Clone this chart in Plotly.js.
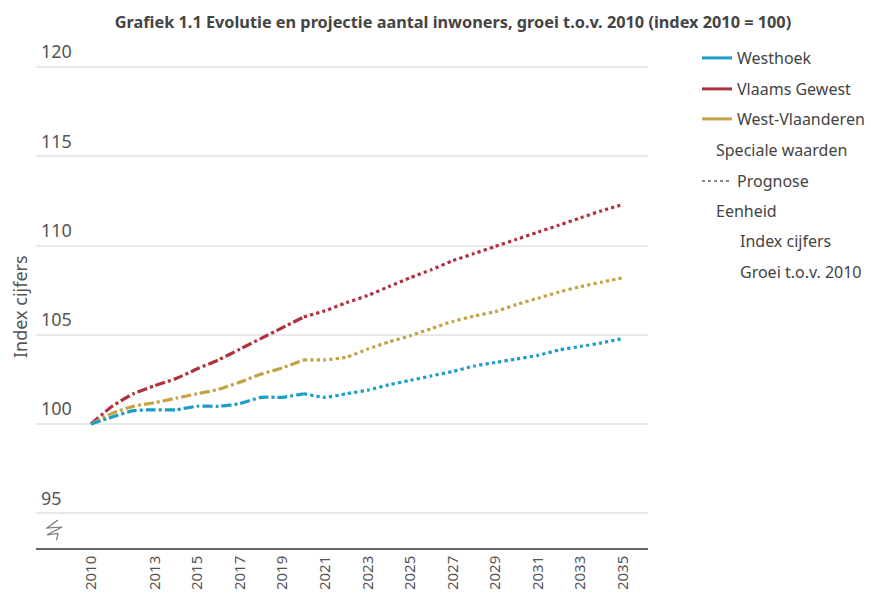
<!DOCTYPE html>
<html>
<head>
<meta charset="utf-8">
<script src="https://cdn.plot.ly/plotly-3.0.1.min.js"></script>
<style>html,body{margin:0;padding:0;background:#fff;}#chart{width:871px;height:603px;}</style>
</head>
<body>
<div id="chart"></div>
<script>
// ---- data ----
const histYears = [2010, 2011, 2012, 2013, 2014, 2015, 2016, 2017, 2018, 2019, 2020];
const progYears = [2020, 2021, 2022, 2023, 2024, 2025, 2026, 2027, 2028, 2029, 2030, 2031, 2032, 2033, 2034, 2035];

const westhoekHist = [100, 100.4, 100.75, 100.8, 100.8, 101.0, 101.0, 101.15, 101.5, 101.5, 101.7];
const westhoekProg = [101.7, 101.5, 101.7, 101.9, 102.2, 102.45, 102.7, 102.95, 103.25, 103.45, 103.65, 103.85, 104.15, 104.35, 104.55, 104.8];

const vlaamsHist = [100, 101.0, 101.7, 102.15, 102.55, 103.1, 103.6, 104.2, 104.8, 105.4, 106.0];
const vlaamsProg = [106.0, 106.35, 106.8, 107.2, 107.7, 108.2, 108.65, 109.15, 109.55, 109.95, 110.35, 110.75, 111.15, 111.55, 111.95, 112.3];

const wvlHist = [100, 100.6, 101.0, 101.2, 101.45, 101.7, 101.95, 102.35, 102.8, 103.15, 103.6];
const wvlProg = [103.6, 103.6, 103.75, 104.2, 104.6, 104.95, 105.35, 105.75, 106.05, 106.3, 106.7, 107.05, 107.4, 107.7, 107.95, 108.2];

const seriesNames = ["Westhoek", "Vlaams Gewest", "West-Vlaanderen"];
const xTickVals = [2010, 2013, 2015, 2017, 2019, 2021, 2023, 2025, 2027, 2029, 2031, 2033, 2035];
const yTickVals = [95, 100, 105, 110, 115, 120];
const prognoseLabel = "Prognose";
const legendHeaders = ["Speciale waarden", "Eenheid"];
const unitLabels = ["Index cijfers", "Groei t.o.v. 2010"];
const yTitle = "Index cijfers";

// ---- styles ----
const FONT = "'Noto Sans', 'Open Sans', sans-serif";
const colors = {"Westhoek": "#1b9dc8", "Vlaams Gewest": "#b22f3e", "West-Vlaanderen": "#c3a345"};
const TXT = "#444";
const histDash = "10px,3px,3px,3px";

const series = [
  {name: seriesNames[1], hist: vlaamsHist, prog: vlaamsProg, legend: "legend2"},
  {name: seriesNames[2], hist: wvlHist, prog: wvlProg, legend: "legend3"},
  {name: seriesNames[0], hist: westhoekHist, prog: westhoekProg, legend: "legend"}
];

const traces = [];
series.forEach(s => {
  traces.push({x: histYears, y: s.hist, type: "scatter", mode: "lines", name: s.name,
    line: {color: colors[s.name], width: 3.2, dash: histDash, shape: "spline", smoothing: 0.6},
    showlegend: false, hoverinfo: "x+y+name"});
  traces.push({x: progYears, y: s.prog, type: "scatter", mode: "lines", name: s.name + " (prognose)",
    line: {color: colors[s.name], width: 3.2, dash: "dot", shape: "spline", smoothing: 0.6},
    showlegend: false, hoverinfo: "x+y+name"});
});
// legend entries (solid swatches)
series.forEach(s => {
  traces.push({x: [null], y: [null], type: "scatter", mode: "lines", name: s.name,
    line: {color: colors[s.name], width: 3}, showlegend: true, legend: s.legend});
});
traces.push({x: [null], y: [null], type: "scatter", mode: "lines", name: prognoseLabel,
  line: {color: "#888", width: 2, dash: "dot"}, showlegend: true, legend: "legend4"});

// plot area in px
const L = 36, R = 648, T = 30, B = 548, W = 871, H = 603;
const px2x = p => (p - L) / (R - L);
const px2y = p => (B - p) / (B - T);

function leg(yPx) {
  return {x: px2x(697), xanchor: "left", y: px2y(yPx), yanchor: "middle",
    font: {family: FONT, size: 16, color: TXT}, bgcolor: "rgba(0,0,0,0)", borderwidth: 0,
    itemwidth: 30, tracegroupgap: 0};
}

function note(text, xPx, yPx, extra) {
  return Object.assign({text: text, x: px2x(xPx), y: px2y(yPx), xref: "paper", yref: "paper",
    xanchor: "left", yanchor: "middle", showarrow: false, font: {family: FONT, size: 16, color: TXT}}, extra || {});
}

const annotations = [
  note(legendHeaders[0], 714, 150),
  note(legendHeaders[1], 714, 211),
  note(unitLabels[0], 738, 241),
  note(unitLabels[1], 738, 272),
  note(yTitle, 20, 307, {textangle: -90, xanchor: "center", font: {family: FONT, size: 18, color: "#555"}})
];

// axis break zigzag
const zz = [[58,520],[47,528],[62,527],[47,535],[58,533.5],[56.5,540]];
const zzPath = "M " + zz.map(p => px2x(p[0]).toFixed(4) + "," + px2y(p[1]).toFixed(4)).join(" L ");

const layout = {
  width: W, height: H,
  margin: {l: L, r: W - R, t: T, b: H - B, pad: 0, autoexpand: false},
  paper_bgcolor: "#fff", plot_bgcolor: "#fff",
  font: {family: FONT, color: TXT},
  title: {text: "<b>Grafiek 1.1 Evolutie en projectie aantal inwoners, groei t.o.v. 2010 (index 2010 = 100)</b>",
    font: {family: FONT, size: 16.3, color: TXT}, x: 453 / W, xanchor: "center", xref: "container",
    y: 1 - 22 / H, yanchor: "middle", yref: "container"},
  xaxis: {range: [2007.42, 2036.17], tickvals: xTickVals, ticktext: xTickVals.map(String), tickangle: -90,
    showgrid: false, zeroline: false, showline: true, linecolor: "#666", linewidth: 1.5,
    ticks: "", tickfont: {family: FONT, size: 15, color: "#555"}, fixedrange: true, automargin: false},
  yaxis: {range: [93.06, 122.07], tickvals: yTickVals, ticktext: yTickVals.map(String),
    showgrid: true, gridcolor: "#e9e9e9", gridwidth: 1.5, zeroline: false, showline: false, ticks: "",
    ticklabelposition: "inside", ticklabelshift: -15, ticklabelstandoff: 2,
    tickfont: {family: FONT, size: 18, color: "#555"}, fixedrange: true, automargin: false},
  legend: leg(58), legend2: leg(89), legend3: leg(119), legend4: leg(181),
  annotations: annotations,
  shapes: [{type: "path", path: zzPath, xref: "paper", yref: "paper", line: {color: "#777", width: 1.2}}],
  hovermode: "closest"
};

Plotly.newPlot("chart", traces, layout, {displayModeBar: false});
</script>
</body>
</html>
